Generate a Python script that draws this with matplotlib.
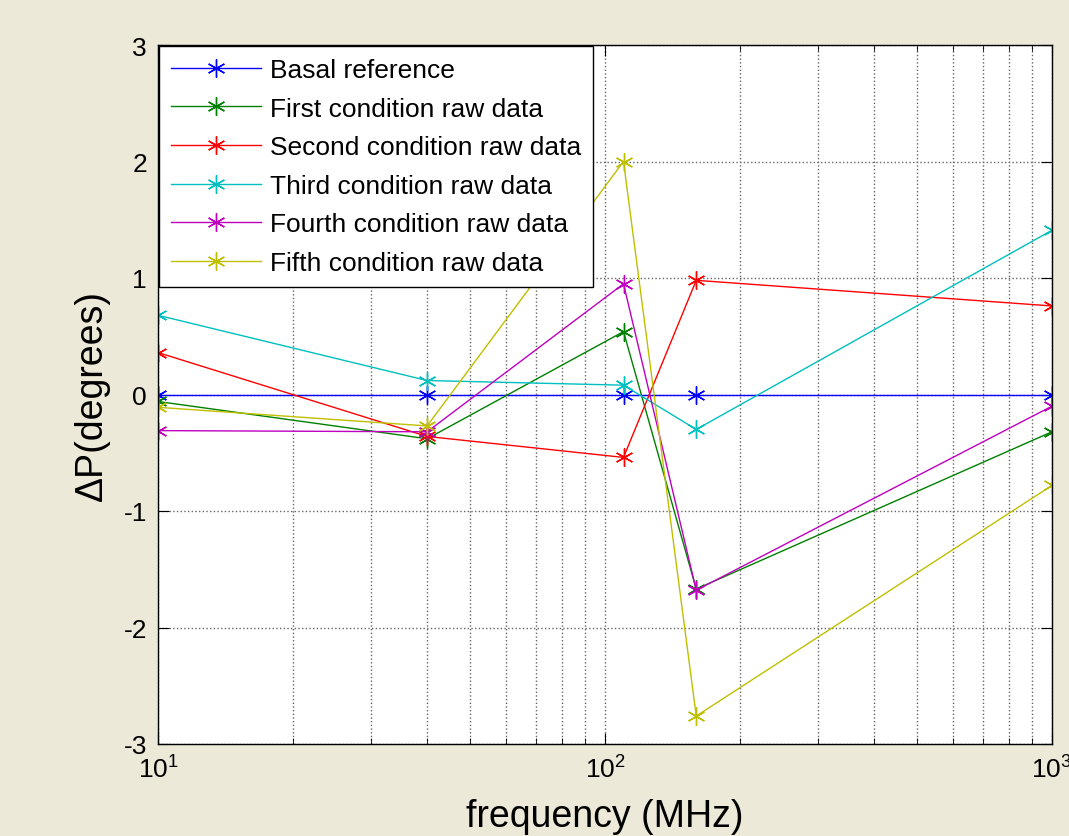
import matplotlib
matplotlib.use("Agg")
import matplotlib.pyplot as plt
import numpy as np

plt.rcParams['font.family'] = ['Liberation Sans', 'DejaVu Sans']

# frequencies (MHz)
freq = [10, 40, 110, 160, 1000]

# phase shift values (degrees)
basal = [0, 0, 0, 0, 0]
first = [-0.06, -0.38, 0.54, -1.67, -0.32]
second = [0.36, -0.36, -0.54, 0.98, 0.76]
third = [0.68, 0.12, 0.08, -0.30, 1.41]
fourth = [-0.31, -0.32, 0.95, -1.68, -0.10]
fifth = [-0.11, -0.27, 2.0, -2.76, -0.78]

labels = ['Basal reference', 'First condition raw data', 'Second condition raw data',
          'Third condition raw data', 'Fourth condition raw data', 'Fifth condition raw data']
series = [basal, first, second, third, fourth, fifth]
colors = ['#0000ff', '#008000', '#ff0000', '#00bfbf', '#bf00bf', '#bfbf00']

fig = plt.figure(figsize=(10.69, 8.37), dpi=100, facecolor='#ece9d8')
ax = fig.add_axes([158 / 1069, 1 - 745 / 837, (1052 - 158) / 1069, (745 - 46) / 837])

for vals, lab, c in zip(series, labels, colors):
    ax.plot(freq, vals, color=c, lw=1, marker=(6, 2, 0), ms=13, mew=1, label=lab)

ax.set_xscale('log')
ax.set_xlim(10, 1000)
ax.set_ylim(-3, 3)
ax.set_yticks(np.arange(-3, 4, 1))
ax.set_yticklabels([str(v) for v in range(-3, 4)])

ax.grid(True, which='major', axis='both', ls=':', color='#666666', lw=1)
ax.grid(True, which='minor', axis='x', ls=':', color='#666666', lw=1)
ax.tick_params(which='both', direction='in', top=True, right=True, labelsize=19, pad=8)
ax.tick_params(which='major', length=8)
ax.tick_params(which='minor', length=4)
for sp in ax.spines.values():
    sp.set_linewidth(1)

ax.set_xlabel('frequency (MHz)', fontsize=27, labelpad=11)
ax.set_ylabel('ΔP(degrees)', fontsize=27, labelpad=10)

leg = ax.legend(loc='upper left', fontsize=19, fancybox=False, framealpha=1,
                edgecolor='black', borderaxespad=0.05, handlelength=3.4,
                handletextpad=0.35, labelspacing=0.55, borderpad=0.45)
leg.get_frame().set_linewidth(1)

fig.savefig('out.png', dpi=100, facecolor=fig.get_facecolor())
